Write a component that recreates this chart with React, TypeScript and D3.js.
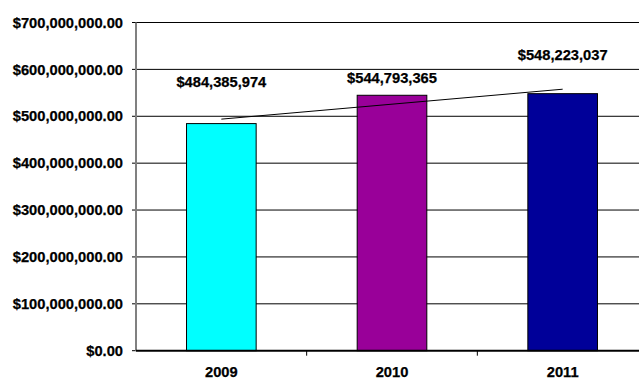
import React from "react";
import * as d3 from "d3";

const categories = ["2009", "2010", "2011"];
const values = [484385974, 544793365, 548223037];
const barColors = ["#00FFFF", "#990099", "#000099"];
const yTicks = [0, 100000000, 200000000, 300000000, 400000000, 500000000, 600000000, 700000000];
// label lift above bar top (px)
const labelLift = [37, 12, 34];

const W = 639;
const H = 379;
const left = 136;
const rightEdge = 648;
const top = 22.5;
const bottom = 350.7;

export default function App() {
  const x = d3.scaleBand<string>().domain(categories).range([left, rightEdge]).paddingInner(0).paddingOuter(0);
  const y = d3.scaleLinear().domain([0, 700000000]).range([bottom, top]);
  const bw = x.bandwidth() * 0.408;
  const fmtTick = (v: number) => "$" + d3.format(",.2f")(v);
  const fmtLabel = (v: number) => "$" + d3.format(",")(v);

  // linear trendline (least squares)
  const xs = values.map((_, i) => i + 1);
  const mx = d3.mean(xs)!;
  const my = d3.mean(values)!;
  const slope = d3.sum(xs.map((xi, i) => (xi - mx) * (values[i] - my))) / d3.sum(xs.map((xi) => (xi - mx) ** 2));
  const icpt = my - slope * mx;
  const trendPts: [number, number][] = categories.map((c, i) => [x(c)! + x.bandwidth() / 2, y(icpt + slope * (i + 1))]);
  const line = d3.line();

  const font = "'Liberation Sans', Arial, sans-serif";
  const fs = 14.7;
  const textStyle = { stroke: "#000", strokeWidth: 0.25 } as React.CSSProperties;
  return (
    <svg width={W} height={H} style={{ position: "absolute", left: 0, top: 0, background: "#fff" }}>
      <rect x={0} y={0} width={W} height={H} fill="#fff" />
      {yTicks.map((t) => (
        <g key={t}>
          {t > 0 && <line x1={left} x2={W} y1={y(t)} y2={y(t)} stroke="#000" strokeWidth={1} />}
          <line x1={left - 4} x2={left} y1={y(t)} y2={y(t)} stroke="#000" strokeWidth={1} />
          <text x={123} y={y(t)} dy="0.35em" textAnchor="end" fontFamily={font} fontWeight="bold" fontSize={fs} fill="#000" style={textStyle}>
            {fmtTick(t)}
          </text>
        </g>
      ))}
      {categories.map((c, i) => (
        <rect key={c} x={x(c)! + (x.bandwidth() - bw) / 2} y={y(values[i])} width={bw} height={bottom - y(values[i])} fill={barColors[i]} stroke="#000" strokeWidth={1} />
      ))}
      <line x1={left} x2={left} y1={top} y2={bottom} stroke="#808080" strokeWidth={2} />
      <line x1={left} x2={W} y1={bottom} y2={bottom} stroke="#000" strokeWidth={2} />
      {categories.slice(1).map((c) => (
        <line key={c} x1={x(c)!} x2={x(c)!} y1={bottom} y2={bottom + 5} stroke="#000" strokeWidth={1} />
      ))}
      <path d={line(trendPts)!} stroke="#000" strokeWidth={1} fill="none" />
      {categories.map((c, i) => (
        <text key={c} x={x(c)! + x.bandwidth() / 2} y={y(values[i]) - labelLift[i]} textAnchor="middle" fontFamily={font} fontWeight="bold" fontSize={fs} fill="#000" style={textStyle}>
          {fmtLabel(values[i])}
        </text>
      ))}
      {categories.map((c) => (
        <text key={c} x={x(c)! + x.bandwidth() / 2} y={377} textAnchor="middle" fontFamily={font} fontWeight="bold" fontSize={fs} fill="#000" style={textStyle}>
          {c}
        </text>
      ))}
    </svg>
  );
}
